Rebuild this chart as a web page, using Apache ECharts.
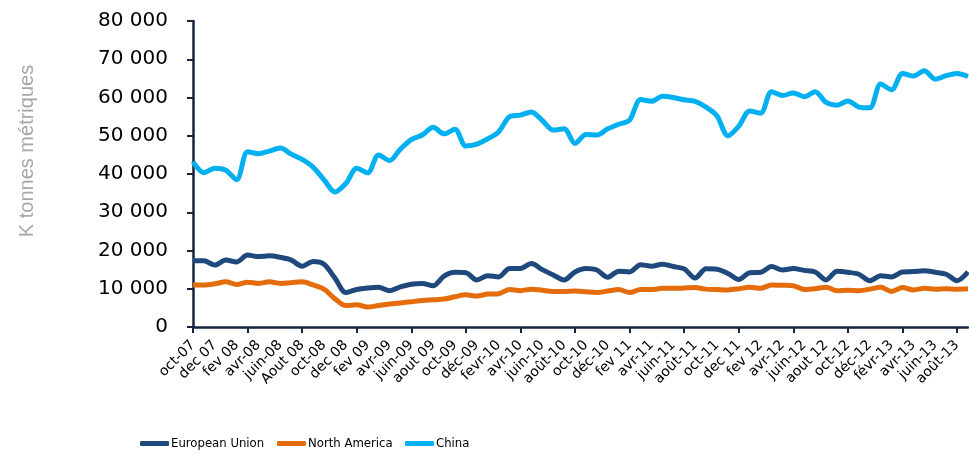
<!DOCTYPE html>
<html>
<head>
<meta charset="utf-8">
<script src="https://cdn.jsdelivr.net/npm/echarts@6/dist/echarts.min.js"></script>
<style>
  html, body { margin: 0; padding: 0; background: #fff; }
  #main { width: 969px; height: 455px; }
</style>
</head>
<body>
<div id="main"></div>
<script>
// mois (oct-07 -> sept-13), une étiquette sur deux est affichée
var months = [
  'oct-07', 'nov-07', 'dec 07', 'janv-08', 'fev 08', 'mars-08', 'avr-08', 'mai-08', 'juin-08', 'juil-08', 'Aout 08', 'sept-08',
  'oct-08', 'nov-08', 'dec 08', 'janv-09', 'fev 09', 'mars-09', 'avr-09', 'mai-09', 'juin-09', 'juil-09', 'aout 09', 'sept-09',
  'oct-09', 'nov-09', 'déc-09', 'janv-10', 'fevr-10', 'mars-10', 'avr-10', 'mai-10', 'juin-10', 'juil-10', 'août-10', 'sept-10',
  'oct-10', 'nov-10', 'déc-10', 'janv-11', 'fev 11', 'mars-11', 'avr-11', 'mai-11', 'juin-11', 'juil-11', 'août-11', 'sept-11',
  'oct-11', 'nov-11', 'dec 11', 'janv-12', 'fev 12', 'mars-12', 'avr-12', 'mai-12', 'juin-12', 'juil-12', 'aout 12', 'sept-12',
  'oct-12', 'nov-12', 'déc-12', 'janv-13', 'févr-13', 'mars-13', 'avr-13', 'mai-13', 'juin-13', 'juil-13', 'août-13', 'sept-13'
];

var europeanUnion = [
  17300, 17300, 16200, 17500, 17000, 18800, 18400, 18600, 18200, 17500, 15900, 17100,
  16400, 12800, 9000, 9800, 10200, 10400, 9500, 10500, 11200, 11400, 10800, 13300,
  14300, 14200, 12300, 13400, 13100, 15300, 15300, 16600, 15000, 13600, 12300, 14400,
  15300, 14900, 13000, 14600, 14400, 16300, 15900, 16400, 15800, 15200, 12800, 15200,
  15100, 14000, 12400, 14200, 14300, 15800, 14900, 15300, 14800, 14400, 12300, 14600,
  14300, 13800, 12100, 13400, 13100, 14400, 14500, 14700, 14300, 13800, 12100, 14400
];

var northAmerica = [
  11000, 11000, 11300, 11800, 11100, 11700, 11400, 11800, 11400, 11600, 11800, 11000,
  9900, 7400, 5600, 5800, 5200, 5600, 6000, 6300, 6600, 6900, 7100, 7300,
  7900, 8400, 8100, 8600, 8700, 9800, 9500, 9900, 9600, 9300, 9300, 9400,
  9200, 9000, 9400, 9800, 9000, 9800, 9800, 10100, 10100, 10200, 10300, 9900,
  9800, 9700, 10000, 10400, 10100, 11000, 10900, 10800, 9800, 10000, 10400, 9500,
  9600, 9500, 9900, 10400, 9300, 10300, 9700, 10100, 9900, 10000, 9900, 10000
];

var china = [
  43200, 40300, 41500, 41000, 38500, 45800, 45300, 46000, 46800, 45200, 43800, 41800,
  38500, 35300, 37500, 41500, 40300, 45000, 43500, 46500, 49000, 50200, 52200, 50500,
  51700, 47300, 47800, 49200, 51000, 55000, 55400, 56200, 54000, 51500, 51800, 48000,
  50300, 50200, 51800, 53000, 54100, 59500, 59000, 60300, 60000, 59400, 59000, 57500,
  55200, 50000, 52500, 56500, 55900, 61500, 60500, 61200, 60200, 61500, 58700, 58000,
  59100, 57500, 57300, 63500, 62000, 66300, 65600, 67000, 64800, 65700, 66300, 65500
];

var seriesNames = ['European Union', 'North America', 'China'];
var legendLeft = [135, 272, 400];

var axisColor = '#17243f';

var myChart = echarts.init(document.getElementById('main'));

// une légende par série pour placer chaque entrée comme dans l'original
var legends = seriesNames.map(function (name, i) {
  return {
    left: legendLeft[i],
    top: 432,
    icon: 'roundRect',
    itemWidth: 29,
    itemHeight: 5,
    textStyle: {
      fontFamily: 'Liberation Sans Narrow, DejaVu Sans Condensed, sans-serif',
      fontSize: 13,
      color: '#000',
      padding: [0, 0, 0, -3]
    },
    data: [name]
  };
});

var option = {
  animation: false,
  color: ['#1f497d', '#e46c0a', '#00b0f0'],
  grid: {
    left: 193,
    right: 1,
    top: 21,
    bottom: 128
  },
  legend: legends,
  xAxis: {
    type: 'category',
    boundaryGap: false,
    data: months,
    axisLine: { lineStyle: { color: axisColor, width: 2.5 } },
    axisTick: {
      interval: 4,
      length: 6,
      lineStyle: { color: axisColor, width: 2 }
    },
    axisLabel: {
      interval: 1,
      rotate: 45,
      margin: 16,
      fontFamily: 'DejaVu Sans',
      fontSize: 14,
      color: '#000'
    },
    splitLine: { show: false }
  },
  yAxis: {
    type: 'value',
    min: 0,
    max: 80000,
    interval: 10000,
    axisLine: { show: true, lineStyle: { color: axisColor, width: 2.5 } },
    axisTick: { show: true, length: 6, lineStyle: { color: axisColor, width: 2 } },
    axisLabel: {
      margin: 25,
      fontFamily: 'DejaVu Sans',
      fontSize: 20,
      color: '#000',
      formatter: function (v) {
        return String(v).replace(/\B(?=(\d{3})+(?!\d))/g, ' ');
      }
    },
    splitLine: { show: false }
  },
  graphic: [
    {
      type: 'text',
      x: 27,
      y: 151,
      rotation: Math.PI / 2,
      style: {
        text: 'K tonnes métriques',
        fill: '#a6a6a6',
        font: '20px "Liberation Sans", Arial, sans-serif',
        align: 'center',
        verticalAlign: 'middle'
      }
    }
  ],
  series: [
    {
      name: seriesNames[0],
      type: 'line',
      data: europeanUnion,
      smooth: 0.3,
      showSymbol: false,
      lineStyle: { width: 5 }
    },
    {
      name: seriesNames[1],
      type: 'line',
      data: northAmerica,
      smooth: 0.3,
      showSymbol: false,
      lineStyle: { width: 5 }
    },
    {
      name: seriesNames[2],
      type: 'line',
      data: china,
      smooth: 0.3,
      showSymbol: false,
      lineStyle: { width: 5 }
    }
  ]
};

myChart.setOption(option);
</script>
</body>
</html>
